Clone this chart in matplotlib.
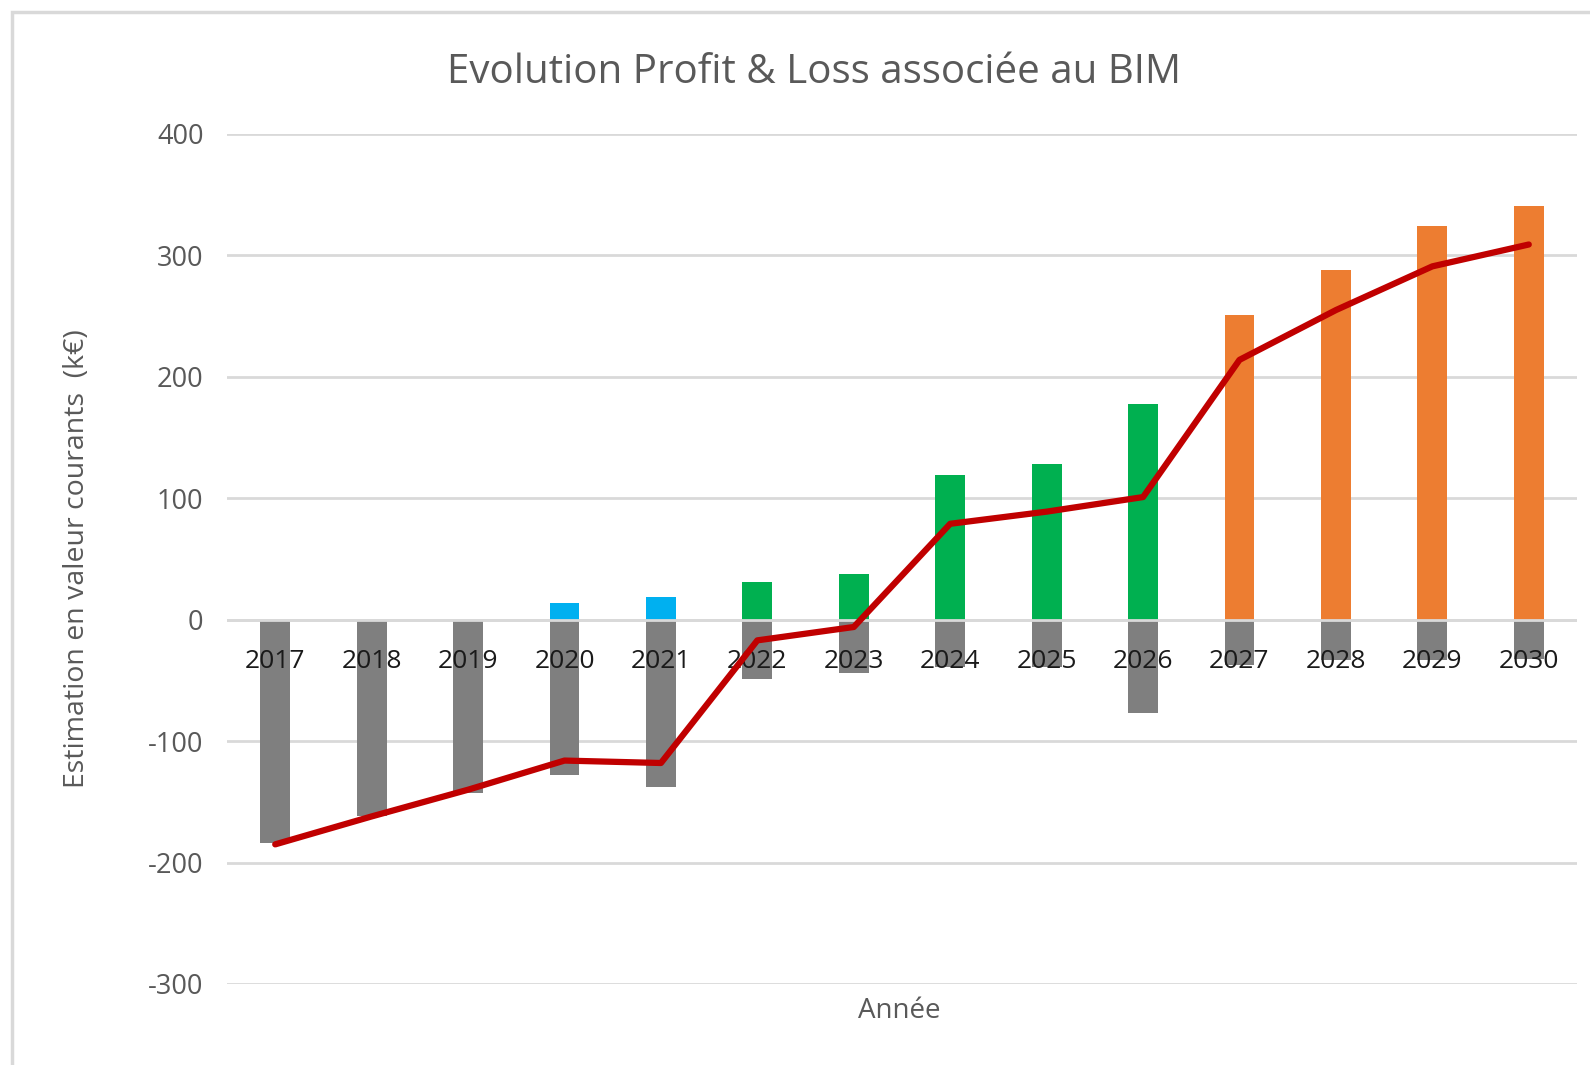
import matplotlib
matplotlib.use("Agg")
import matplotlib.pyplot as plt
from matplotlib.patches import Rectangle

# values (k€)
years = ["2017", "2018", "2019", "2020", "2021", "2022", "2023",
         "2024", "2025", "2026", "2027", "2028", "2029", "2030"]
costs = [-184, -162, -143, -128, -138, -49, -44,
         -39, -39, -77, -37, -33, -33, -32]
gains = [0, 0, 0, 14, 19, 31, 38,
         119, 128, 178, 251, 288, 324, 341]
net = [-185, -162, -140, -116, -118, -17, -6,
       79, 89, 101, 214, 255, 291, 309]
gain_colors = ["#00b0f0"] * 5 + ["#00b050"] * 5 + ["#ed7d31"] * 4
yticks = [-300, -200, -100, 0, 100, 200, 300, 400]

text_grey = "#595959"
plt.rcParams["font.family"] = ["Open Sans", "DejaVu Sans"]

fig = plt.figure(figsize=(15.9, 10.65), dpi=100)
ax = fig.add_axes([227 / 1590, 1 - 984 / 1065, (1577 - 227) / 1590, (984 - 134) / 1065])

# chart border (Excel style, cut at right/bottom)
fig.patches.append(Rectangle((12 / 1590, -0.1), 1.2, 1 - 12 / 1065 + 0.1,
                             transform=fig.transFigure, fill=False,
                             edgecolor="#d9d9d9", linewidth=2.5, zorder=0))

x = list(range(len(years)))
width = 0.31
ax.bar(x, costs, width=width, color="#7f7f7f", zorder=2)
ax.bar(x, gains, width=width, color=gain_colors, zorder=2)
ax.plot(x, net, color="#c00000", linewidth=4.5, solid_capstyle="round",
        solid_joinstyle="round", zorder=5)

for i, yr in enumerate(years):
    ax.text(i, -34, yr, ha="center", va="center", fontsize=19,
            color="#1a1a1a", zorder=4)

ax.set_xlim(-0.5, len(years) - 0.5)
ax.set_ylim(-300, 400)
ax.set_yticks(yticks)
ax.set_yticklabels([str(v) for v in yticks], color=text_grey, fontsize=19.5)
ax.tick_params(axis="y", length=0, pad=17)
ax.set_xticks([])
ax.grid(axis="y", color="#d9d9d9", linewidth=2, zorder=1)
ax.axhline(0, color="#d9d9d9", linewidth=2, zorder=3)
ax.set_axisbelow(True)
for s in ax.spines.values():
    s.set_visible(False)

fig.text(77 / 1590, 1 - 559 / 1065, "Estimation en valeur courants  (k€)",
         rotation=90, ha="center", va="center", fontsize=20.5, color=text_grey)
fig.text(899 / 1590, 1 - 1011 / 1065, "Année", ha="center", va="center",
         fontsize=20, color=text_grey)
fig.text(814 / 1590, 1 - 73 / 1065, "Evolution Profit & Loss associée au BIM",
         ha="center", va="center", fontsize=29, color=text_grey)

fig.savefig("out.png", dpi=100)
